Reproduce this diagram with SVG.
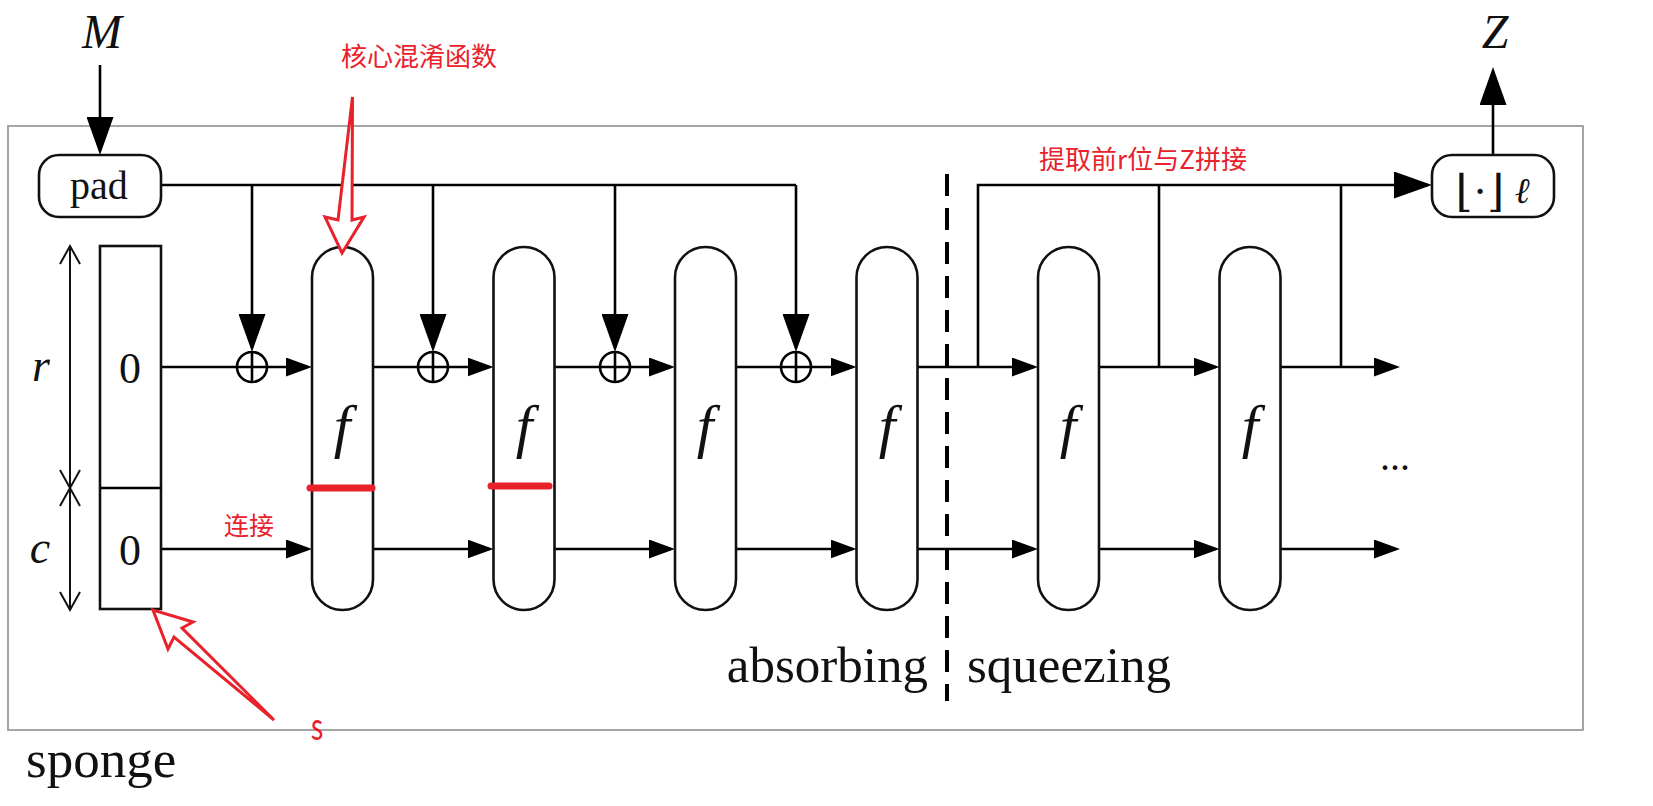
<svg xmlns="http://www.w3.org/2000/svg" width="1653" height="806" viewBox="0 0 1653 806">
<defs>
<marker id="big" markerUnits="userSpaceOnUse" viewBox="0 0 38 27" markerWidth="38" markerHeight="27" refX="34" refY="13.5" orient="auto">
<path d="M0,0 L38,13.5 L0,27 Z" fill="#000"/>
</marker>
<marker id="small" markerUnits="userSpaceOnUse" viewBox="0 0 26 19" markerWidth="26" markerHeight="19" refX="22" refY="9.5" orient="auto">
<path d="M0,0 L26,9.5 L0,19 Z" fill="#000"/>
</marker>
</defs>
<style>
.ln{stroke:#000;stroke-width:2.6;fill:none}
.cap{fill:#fff;stroke:#111;stroke-width:2.6}
.box{fill:#fff;stroke:#111;stroke-width:2.6}
.math{font-family:"Liberation Serif","DejaVu Serif",serif;font-style:italic;fill:#111}
.rm{font-family:"Liberation Serif","DejaVu Serif",serif;fill:#111}
.red{font-family:"Noto Sans CJK SC","Noto Sans",sans-serif;fill:#e8212b}
.redarrow{fill:#fff;stroke:#e8212b;stroke-width:3;stroke-linejoin:miter}
.bar{stroke:#e8212b;stroke-width:7;stroke-linecap:round}
.dim{stroke:#111;stroke-width:2;fill:none}
</style>
<rect width="1653" height="806" fill="#fff"/>
<rect id="frame" x="8" y="126" width="1575" height="604" fill="none" stroke="#8f8f8f" stroke-width="1.6"/>

<g id="connectors">
<line class="ln" x1="100" y1="65" x2="100" y2="151" marker-end="url(#big)"/>
<line class="ln" x1="1493" y1="155" x2="1493" y2="71" marker-end="url(#big)"/>
<polyline class="ln" points="161,185 796,185"/>
<line class="ln" x1="252" y1="185" x2="252" y2="348" marker-end="url(#big)"/>
<line class="ln" x1="433" y1="185" x2="433" y2="348" marker-end="url(#big)"/>
<line class="ln" x1="615" y1="185" x2="615" y2="348" marker-end="url(#big)"/>
<line class="ln" x1="796" y1="185" x2="796" y2="348" marker-end="url(#big)"/>
<polyline class="ln" points="978,367 978,185 1428,185" marker-end="url(#big)"/>
<line class="ln" x1="1159" y1="185" x2="1159" y2="367"/>
<line class="ln" x1="1341" y1="185" x2="1341" y2="367"/>
<line class="ln" x1="161" y1="367" x2="308" y2="367" marker-end="url(#small)"/>
<line class="ln" x1="373" y1="367" x2="489.5" y2="367" marker-end="url(#small)"/>
<line class="ln" x1="554.5" y1="367" x2="671" y2="367" marker-end="url(#small)"/>
<line class="ln" x1="736" y1="367" x2="852.5" y2="367" marker-end="url(#small)"/>
<line class="ln" x1="917.5" y1="367" x2="1034" y2="367" marker-end="url(#small)"/>
<line class="ln" x1="1099" y1="367" x2="1215.5" y2="367" marker-end="url(#small)"/>
<line class="ln" x1="1280.5" y1="367" x2="1396" y2="367" marker-end="url(#small)"/>
<line class="ln" x1="161" y1="549" x2="308" y2="549" marker-end="url(#small)"/>
<line class="ln" x1="373" y1="549" x2="489.5" y2="549" marker-end="url(#small)"/>
<line class="ln" x1="554.5" y1="549" x2="671" y2="549" marker-end="url(#small)"/>
<line class="ln" x1="736" y1="549" x2="852.5" y2="549" marker-end="url(#small)"/>
<line class="ln" x1="917.5" y1="549" x2="1034" y2="549" marker-end="url(#small)"/>
<line class="ln" x1="1099" y1="549" x2="1215.5" y2="549" marker-end="url(#small)"/>
<line class="ln" x1="1280.5" y1="549" x2="1396" y2="549" marker-end="url(#small)"/>
</g>

<g id="xor">
<g class="ln"><circle cx="252" cy="367" r="15"/><line x1="252" y1="352" x2="252" y2="382"/></g>
<g class="ln"><circle cx="433" cy="367" r="15"/><line x1="433" y1="352" x2="433" y2="382"/></g>
<g class="ln"><circle cx="615" cy="367" r="15"/><line x1="615" y1="352" x2="615" y2="382"/></g>
<g class="ln"><circle cx="796" cy="367" r="15"/><line x1="796" y1="352" x2="796" y2="382"/></g>
</g>

<g id="divider">
<line x1="947" y1="174" x2="947" y2="701" stroke="#000" stroke-width="4" stroke-dasharray="22 12"/>
</g>

<g id="pad">
<rect class="box" x="39" y="155" width="122" height="62" rx="20"/>
<text class="rm" x="99" y="199" font-size="40" text-anchor="middle">pad</text>
</g>

<g id="trunc">
<rect class="box" x="1432" y="155" width="122" height="62" rx="20"/>
<text class="rm" x="1480" y="206" font-size="44" text-anchor="middle" font-family="DejaVu Serif">⌊·⌋</text>
<text class="math" x="1522" y="203" font-size="36" text-anchor="middle">ℓ</text>
</g>

<g id="state">
<rect class="box" x="100" y="246" width="61" height="363"/>
<line class="ln" x1="100" y1="488" x2="161" y2="488"/>
<text class="rm" x="130" y="383" font-size="44" text-anchor="middle">0</text>
<text class="rm" x="130" y="565" font-size="44" text-anchor="middle">0</text>
</g>

<g id="dims">
<line class="dim" x1="70" y1="246" x2="70" y2="609"/>
<polyline class="dim" points="60,264 70,246 80,264"/>
<polyline class="dim" points="60,470 70,488 80,470"/>
<polyline class="dim" points="60,506 70,488 80,506"/>
<polyline class="dim" points="60,592 70,610 80,592"/>
<text class="math" x="41" y="381" font-size="46" text-anchor="middle">r</text>
<text class="math" x="40" y="563" font-size="46" text-anchor="middle">c</text>
</g>

<g id="f1"><rect class="cap" x="312" y="247" width="61" height="363" rx="30.5"/><text class="math" x="342" y="446" font-size="60" text-anchor="middle">f</text></g>
<g id="f2"><rect class="cap" x="493.5" y="247" width="61" height="363" rx="30.5"/><text class="math" x="524" y="446" font-size="60" text-anchor="middle">f</text></g>
<g id="f3"><rect class="cap" x="675" y="247" width="61" height="363" rx="30.5"/><text class="math" x="705" y="446" font-size="60" text-anchor="middle">f</text></g>
<g id="f4"><rect class="cap" x="856.5" y="247" width="61" height="363" rx="30.5"/><text class="math" x="887" y="446" font-size="60" text-anchor="middle">f</text></g>
<g id="f5"><rect class="cap" x="1038" y="247" width="61" height="363" rx="30.5"/><text class="math" x="1068" y="446" font-size="60" text-anchor="middle">f</text></g>
<g id="f6"><rect class="cap" x="1219.5" y="247" width="61" height="363" rx="30.5"/><text class="math" x="1250" y="446" font-size="60" text-anchor="middle">f</text></g>

<g id="labels">
<text class="math" x="102" y="48" font-size="48" text-anchor="middle">M</text>
<text class="math" x="1495" y="48" font-size="48" text-anchor="middle">Z</text>
<text class="rm" x="1395" y="470" font-size="40" text-anchor="middle">...</text>
<text class="rm" x="928" y="682" font-size="51" text-anchor="end">absorbing</text>
<text class="rm" x="967" y="682" font-size="51">squeezing</text>
<text class="rm" x="26" y="777" font-size="53">sponge</text>
</g>

<g id="annotations">
<line class="bar" x1="310" y1="488" x2="372" y2="488"/>
<line class="bar" x1="491" y1="486" x2="549" y2="486"/>
<polygon class="redarrow" points="352.5,97 352,220 364,217 342,253 325,217 338,220"/>
<polygon class="redarrow" points="274,720 182,628 193,622 153,610 168,649 174,637"/>
<text class="red" x="419" y="66" font-size="26" text-anchor="middle">核心混淆函数</text>
<text class="red" x="249" y="535" font-size="25" text-anchor="middle">连接</text>
<text class="red" x="1143" y="169" font-size="26" text-anchor="middle">提取前r位与Z拼接</text>
<text class="red" transform="translate(317,740) scale(0.72,1)" font-size="37" text-anchor="middle">s</text>
</g>
</svg>
